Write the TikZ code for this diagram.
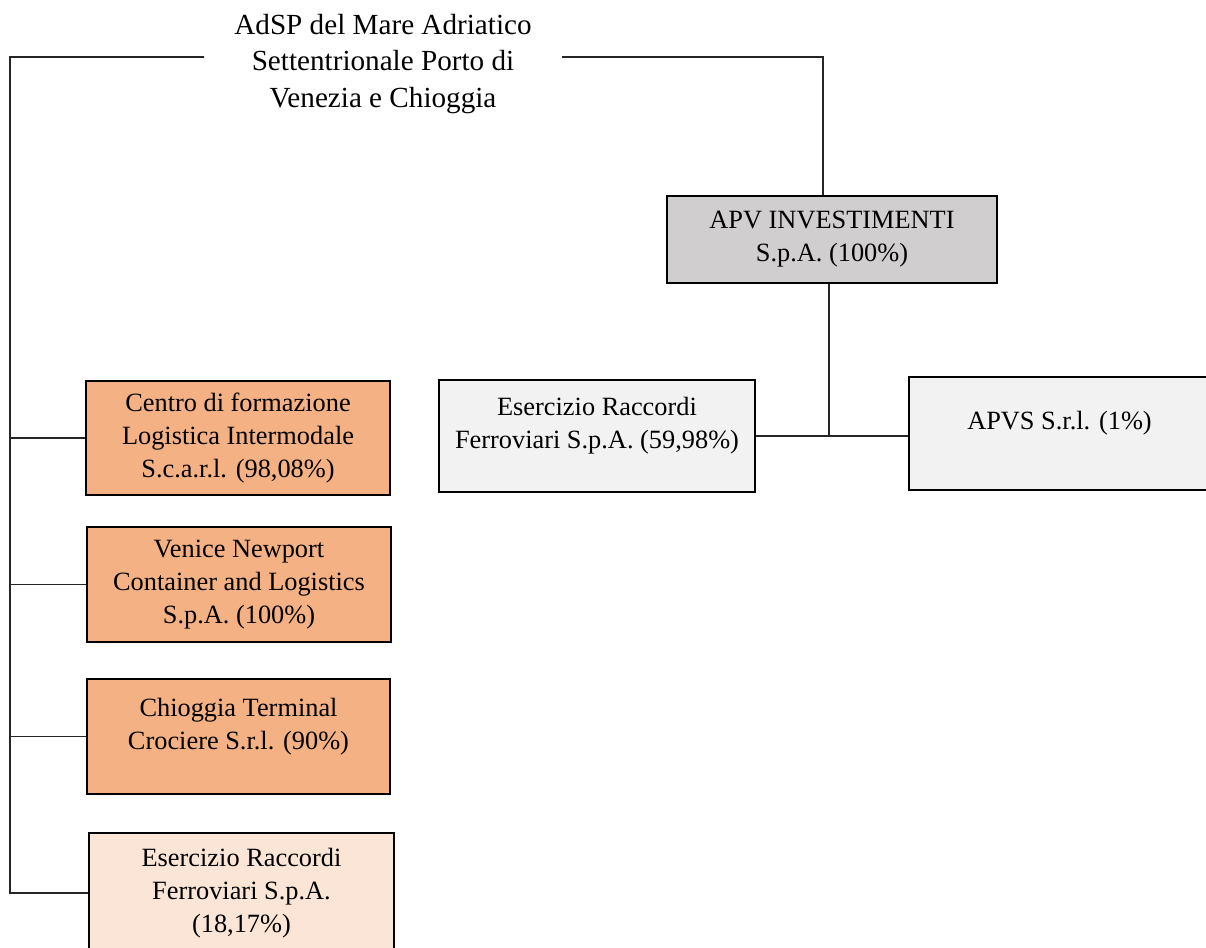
\documentclass[tikz,border=0pt]{standalone}
\usepackage{fontspec}
\setmainfont{Liberation Serif}
\definecolor{arancio}{HTML}{F4B183}
\definecolor{pesca}{HTML}{FBE5D6}
\definecolor{grigio}{HTML}{D0CECE}
\definecolor{chiaro}{HTML}{F2F2F2}
\begin{document}
\begin{tikzpicture}[x=0.02cm, y=-0.02cm]
\tikzset{societa/.style={draw, line width=1.1pt, align=center, inner sep=2pt, font=\fontsize{15}{18.8}\selectfont},
         legame/.style={line width=0.9pt, black!85}}
\useasboundingbox (0,0) rectangle (1206,947);
\node[align=center, font=\fontsize{16.6}{20.7}\selectfont, minimum width=7.14cm] (ADSP) at (383,64) {AdSP del Mare Adriatico\\Settentrionale Porto di\\Venezia e Chioggia};
\node[societa, fill=grigio, minimum width=6.6cm, minimum height=1.74cm] (APV) at (832,239.5) {APV INVESTIMENTI\\S.p.A. (100\%)};
\node[societa, fill=chiaro, minimum width=6.32cm, minimum height=2.24cm] (ERFR) at (597,436) {Esercizio Raccordi\\Ferroviari S.p.A. (59,98\%)\\[-4pt]\mbox{}};
\node[societa, fill=chiaro, minimum width=6.02cm, minimum height=2.26cm] (APVS) at (1059.5,433.5) {APVS S.r.l. (1\%)\\[-4pt]\mbox{}};
\node[societa, fill=arancio, minimum width=6.08cm, minimum height=2.28cm] (CFL) at (238,438) {Centro di formazione\\Logistica Intermodale\\S.c.a.r.l. (98,08\%)};
\node[societa, fill=arancio, minimum width=6.08cm, minimum height=2.3cm] (VNCL) at (239,584.5) {Venice Newport\\Container and Logistics\\S.p.A. (100\%)};
\node[societa, fill=arancio, minimum width=6.06cm, minimum height=2.3cm] (CTC) at (238.5,736.5) {Chioggia Terminal\\Crociere S.r.l. (90\%)\\[-4pt]\mbox{}};
\node[societa, fill=pesca, minimum width=6.1cm, minimum height=2.4cm] (ERFL) at (241.5,893) {Esercizio Raccordi\\Ferroviari S.p.A.\\(18,17\%)};
\coordinate (bus) at (10,57);
% collegamenti di sinistra
\draw[legame] ([yshift=0.14cm]ADSP.west) -- (bus) -- (bus |- ERFL.west) -- (ERFL.west);
\draw[legame] (bus |- CFL.west) -- (CFL.west);
\draw[legame] (bus |- VNCL.west) -- (VNCL.west);
\draw[legame] (bus |- CTC.west) -- (CTC.west);
% collegamenti di destra
\draw[legame, line width=0.7pt] ([yshift=0.14cm]ADSP.east) -| ([xshift=-0.18cm]APV.north);
\draw[legame] ([xshift=-0.06cm]APV.south) -- ([xshift=-0.06cm]APV.south |- ERFR.east);
\draw[legame] (ERFR.east) -- (ERFR.east -| APVS.west);
\end{tikzpicture}
\end{document}
